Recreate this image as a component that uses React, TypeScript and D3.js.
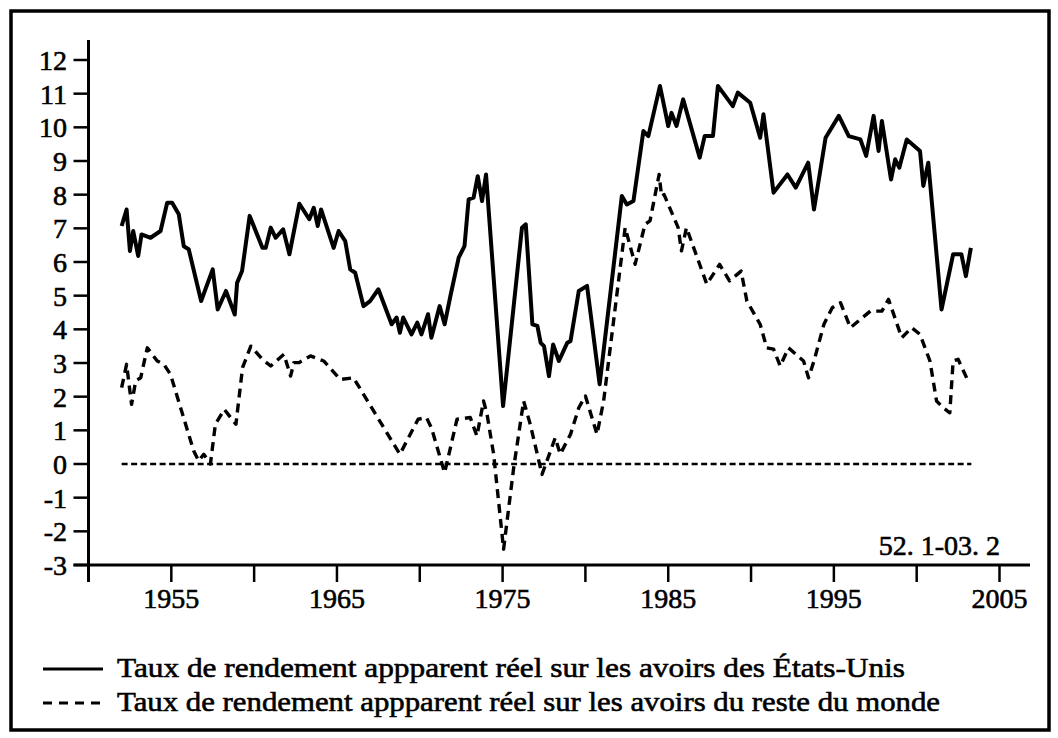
import React from "react";
import * as d3 from "d3";

const usYears = [1952.0,1952.3,1952.5,1952.7,1953.0,1953.2,1953.75,1954.35,1954.75,1955.05,1955.45,1955.75,1956.05,1956.8,1957.5,1957.8,1958.3,1958.83,1958.97,1959.27,1959.73,1960.5,1960.7,1961.0,1961.3,1961.75,1962.13,1962.73,1963.33,1963.6,1963.84,1964.04,1964.8,1965.1,1965.5,1965.8,1966.1,1966.6,1967.0,1967.5,1968.3,1968.6,1968.8,1969.0,1969.5,1969.85,1970.1,1970.5,1970.7,1971.2,1971.5,1971.85,1972.35,1972.7,1972.95,1973.25,1973.5,1973.76,1974.0,1975.03,1976.17,1976.4,1976.8,1977.1,1977.3,1977.5,1977.8,1978.05,1978.4,1978.9,1979.1,1979.6,1980.1,1980.86,1982.2,1982.5,1982.9,1983.5,1983.8,1984.5,1985.0,1985.2,1985.5,1985.9,1986.9,1987.2,1987.7,1988.0,1988.9,1989.2,1989.95,1990.55,1990.75,1991.36,1992.2,1992.7,1993.45,1993.8,1994.5,1995.3,1995.9,1996.6,1996.95,1997.4,1997.7,1997.9,1998.45,1998.7,1998.95,1999.4,2000.2,2000.4,2000.7,2001.5,2002.2,2002.7,2002.97,2003.27];
const usValues = [7.07,7.56,6.33,6.92,6.18,6.82,6.72,6.92,7.76,7.76,7.42,6.47,6.38,4.84,5.78,4.59,5.14,4.44,5.38,5.73,7.37,6.42,6.42,7.02,6.72,6.97,6.23,7.73,7.27,7.61,7.07,7.56,6.42,6.92,6.62,5.78,5.68,4.69,4.84,5.19,4.15,4.35,3.9,4.35,3.85,4.2,3.85,4.45,3.75,4.69,4.15,4.99,6.13,6.47,7.86,7.91,8.55,7.81,8.6,1.72,7.02,7.12,4.15,4.1,3.6,3.5,2.61,3.55,3.06,3.6,3.65,5.14,5.29,2.37,7.96,7.71,7.81,9.89,9.74,11.23,10.04,10.43,10.04,10.83,9.1,9.74,9.74,11.23,10.63,11.03,10.73,9.69,10.39,8.06,8.6,8.21,8.95,7.56,9.69,10.34,9.74,9.64,9.15,10.34,9.3,10.19,8.45,9.05,8.8,9.64,9.3,8.26,8.95,4.59,6.23,6.23,5.58,6.42];

const rowYears = [1952.0,1952.3,1952.6,1952.85,1953.15,1953.55,1954.15,1954.55,1954.95,1956.35,1956.65,1956.96,1957.36,1957.66,1958.2,1958.9,1959.3,1959.8,1960.5,1961.0,1961.8,1962.2,1962.4,1962.7,1963.4,1964.2,1965.2,1966.0,1968.8,1969.9,1970.4,1970.7,1971.5,1972.25,1973.05,1973.45,1973.85,1974.06,1974.46,1975.06,1975.67,1976.27,1976.67,1977.38,1978.18,1978.48,1979.1,1979.6,1980.0,1980.7,1981.1,1982.4,1983.0,1983.6,1983.9,1984.45,1984.6,1984.75,1985.6,1985.8,1986.1,1987.33,1988.1,1988.7,1989.4,1989.75,1990.55,1990.95,1991.36,1991.76,1992.26,1993.17,1993.47,1993.8,1994.4,1994.9,1995.4,1996.0,1997.2,1997.9,1998.3,1999.1,1999.7,2000.2,2000.8,2001.2,2001.6,2002.0,2002.2,2002.5,2003.1];
const rowValues = [2.27,2.96,1.77,2.47,2.56,3.45,3.06,2.96,2.66,0.39,0.09,0.29,0.0,1.18,1.62,1.18,2.86,3.5,3.11,2.91,3.26,2.61,3.01,3.01,3.21,3.06,2.51,2.56,0.29,1.33,1.38,1.08,-0.26,1.33,1.38,0.83,1.87,1.48,0.29,-2.53,-0.11,1.87,1.18,-0.31,0.78,0.29,0.88,1.67,2.02,0.88,1.87,7.02,5.93,7.12,7.22,8.6,7.95,8.0,7.02,6.33,7.02,5.34,5.93,5.44,5.73,4.84,4.15,3.45,3.41,2.91,3.45,3.06,2.56,3.06,4.15,4.64,4.79,4.05,4.54,4.54,4.89,3.75,4.05,3.85,3.06,1.87,1.67,1.52,3.06,3.11,2.47];

const yTickValues = [-3,-2,-1,0,1,2,3,4,5,6,7,8,9,10,11,12];
const xTickValues = [1950,1955,1960,1965,1970,1975,1980,1985,1990,1995,2000,2005];
const xLabelValues = [1955,1965,1975,1985,1995,2005];
const zeroLineRange = [1952.0, 2003.3];
const periodLabel = "52. 1-03. 2";
const legendLabels = [
  "Taux de rendement appparent réel sur les avoirs des États-Unis",
  "Taux de rendement appparent réel sur les avoirs du reste du monde",
];

const FONT = "'Liberation Serif', 'Times New Roman', serif";

export default function App() {
  const W = 1058, H = 738;
  const x = d3.scaleLinear().domain([1950, 2005]).range([88.5, 999.5]);
  const y = d3.scaleLinear().domain([-3, 12]).range([565, 60]);

  const line = d3.line<[number, number]>().x(d => x(d[0])).y(d => y(d[1]));
  const usData: [number, number][] = usYears.map((t, i) => [t, usValues[i]]);
  const rowData: [number, number][] = rowYears.map((t, i) => [t, rowValues[i]]);

  const axisX = x(1950);
  const axisY = y(-3);
  const textStroke = { stroke: "#000", strokeWidth: 0.6 };

  return (
    <svg width={W} height={H} style={{ position: "absolute", left: 0, top: 0, background: "#fff" }} fontFamily={FONT}>
      <rect x={0} y={0} width={W} height={H} fill="#fff" />
      <rect x={11} y={11} width={1038} height={719} fill="none" stroke="#000" strokeWidth={3.5} />

      {/* zero line */}
      <line x1={x(zeroLineRange[0])} x2={x(zeroLineRange[1])} y1={y(0)} y2={y(0)} stroke="#000" strokeWidth={2.5} strokeDasharray="6,3.5" />

      {/* series */}
      <path d={line(rowData) || ""} fill="none" stroke="#000" strokeWidth={3.4} strokeDasharray="9,6" strokeLinejoin="round" />
      <path d={line(usData) || ""} fill="none" stroke="#000" strokeWidth={4} strokeLinejoin="round" />

      {/* y axis */}
      <line x1={axisX} x2={axisX} y1={40} y2={582} stroke="#000" strokeWidth={3} />
      {yTickValues.map(v => (
        <g key={"y" + v}>
          <line x1={axisX - 15} x2={axisX} y1={y(v)} y2={y(v)} stroke="#000" strokeWidth={2.5} />
          <text x={67} y={y(v) + 10} textAnchor="end" fontSize={28} fill="#000" {...textStroke}>{String(v)}</text>
        </g>
      ))}

      {/* x axis */}
      <line x1={axisX - 15} x2={1030} y1={axisY} y2={axisY} stroke="#000" strokeWidth={3} />
      {xTickValues.map(t => (
        <line key={"xt" + t} x1={x(t)} x2={x(t)} y1={axisY} y2={axisY + 17} stroke="#000" strokeWidth={2.5} />
      ))}
      {xLabelValues.map(t => (
        <text key={"xl" + t} x={x(t)} y={608} textAnchor="middle" fontSize={28} fill="#000" {...textStroke}>{String(t)}</text>
      ))}

      <text x={1000} y={555} textAnchor="end" fontSize={28} fill="#000" {...textStroke}>{periodLabel}</text>

      {/* legend */}
      <line x1={43} x2={103} y1={669} y2={669} stroke="#000" strokeWidth={3} />
      <text x={117} y={677} fontSize={28} fill="#000" textLength={788} lengthAdjust="spacingAndGlyphs" {...textStroke}>{legendLabels[0]}</text>
      <line x1={43} x2={103} y1={703} y2={703} stroke="#000" strokeWidth={3} strokeDasharray="9,7" />
      <text x={117} y={711} fontSize={28} fill="#000" textLength={823} lengthAdjust="spacingAndGlyphs" {...textStroke}>{legendLabels[1]}</text>
    </svg>
  );
}
